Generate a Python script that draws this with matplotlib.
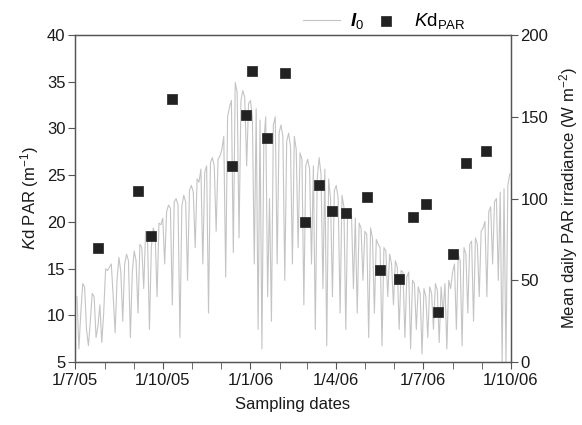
"""Kd PAR sampling points over daily mean PAR irradiance (I0), Jul 2005 - Oct 2006."""

import matplotlib
matplotlib.use("Agg")
import matplotlib.pyplot as plt
import matplotlib.dates as mdates
import pandas as pd

INK = "#1a1a1a"
LINE_GREY = "#c4c4c4"

# Kd PAR sampling dates and values (m^-1)
kd_dates = [
    "2005-07-25", "2005-09-05", "2005-09-19", "2005-10-11", "2005-12-13",
    "2005-12-27", "2006-01-03", "2006-01-18", "2006-02-06", "2006-02-27",
    "2006-03-14", "2006-03-28", "2006-04-11", "2006-05-03", "2006-05-17",
    "2006-06-06", "2006-06-21", "2006-07-04", "2006-07-17", "2006-08-01",
    "2006-08-15", "2006-09-05",
]
kd_values = [
    17.2, 23.3, 18.5, 33.2, 26.0,
    31.4, 36.2, 29.0, 35.9, 20.0,
    23.9, 21.2, 21.0, 22.7, 14.9,
    13.9, 20.5, 21.9, 10.4, 16.6,
    26.3, 27.6,
]

# mean daily PAR irradiance (W m^-2), read every second day from 3 Jul 2005
i0_start = "2005-07-03"
i0_values = [
    # Jul 05
    40, 8, 30, 48, 46, 20, 10, 25, 42, 40, 15, 22, 35, 12, 30,
    # Aug 05
    57, 56, 58, 60, 40, 18, 50, 64, 55, 25, 60, 66, 62, 15, 55,
    # Sep 05
    68, 62, 30, 72, 70, 45, 80, 76, 20, 70, 82, 78, 40, 85, 84,
    # Oct 05
    88, 60, 92, 96, 94, 35, 98, 100, 96, 15, 95, 102, 98, 50, 105, 108,
    # Nov 05
    104, 70, 112, 110, 118, 60, 116, 120, 30, 122, 125, 120, 80, 124, 126,
    # Dec 05
    130, 138, 52, 150, 156, 160, 67, 171, 165, 76, 160, 166, 162, 120, 158,
    # Jan 06
    160, 150, 60, 155, 20, 148, 8, 135, 150, 40, 100, 25, 145, 150, 60, 140,
    # Feb 06
    145, 138, 50, 135, 140, 132, 60, 138, 130, 70, 128, 124, 35, 120,
    # Mar 06
    124, 118, 60, 120, 20, 112, 125, 115, 45, 118, 10, 112, 100, 40, 105,
    # Apr 06
    108, 100, 30, 102, 95, 20, 94, 88, 90, 45, 88, 30, 85, 82, 50,
    # May 06
    80, 78, 15, 82, 76, 30, 75, 72, 70, 10, 70, 68, 40, 66, 60, 35,
    # Jun 06
    62, 58, 20, 56, 55, 15, 52, 55, 8, 50, 48, 20, 46, 42, 5,
    # Jul 06
    45, 40, 15, 46, 42, 20, 48, 44, 12, 46, 30, 48, 8, 50, 45,
    # Aug 06
    55, 60, 20, 66, 62, 10, 70, 66, 30, 72, 74, 25, 76, 72, 40, 80,
    # Sep 06
    82, 86, 40, 92, 95, 60, 98, 100, 50, 104, 0, 106, 0, 108, 115,
]

x_tick_dates = ["2005-07-01", "2005-10-01", "2006-01-01", "2006-04-01",
                "2006-07-01", "2006-10-01"]
x_tick_labels = ["1/7/05", "1/10/05", "1/1/06", "1/4/06", "1/7/06", "1/10/06"]
kd_ticks = [5, 10, 15, 20, 25, 30, 35, 40]
par_ticks = [0, 50, 100, 150, 200]


def setup_rc():
    plt.rcParams.update(
        {
            "font.family": "Liberation Sans",
            "font.size": 12,
            "mathtext.fontset": "custom",
            "mathtext.rm": "Liberation Sans",
            "mathtext.it": "Liberation Sans:italic",
            "mathtext.bf": "Liberation Sans:bold",
            "mathtext.bfit": "Liberation Sans:italic:bold",
            "axes.edgecolor": "#555555",
            "axes.linewidth": 0.9,
            "xtick.color": "#555555",
            "ytick.color": "#555555",
            "xtick.labelcolor": INK,
            "ytick.labelcolor": INK,
            "xtick.direction": "out",
            "ytick.direction": "out",
        }
    )


def main():
    setup_rc()
    fig = plt.figure(figsize=(5.82, 4.25), dpi=100)
    ax = fig.add_axes([0.129, 0.148, 0.7485, 0.7696])
    ax2 = ax.twinx()

    i0_dates = pd.date_range(i0_start, periods=len(i0_values), freq="2D")
    (ln,) = ax2.plot(i0_dates, i0_values, color=LINE_GREY, lw=0.8)
    sc = ax.scatter(pd.to_datetime(kd_dates), kd_values, marker="s", s=60,
                    color="#222222", edgecolors="#222222", linewidths=0.5)

    ax.set_zorder(ax2.get_zorder() + 1)
    ax.patch.set_visible(False)

    ax.set_xlim(pd.Timestamp("2005-07-01"), pd.Timestamp("2006-10-01"))
    ax.set_ylim(5, 40)
    ax.set_yticks(kd_ticks)
    ax2.set_ylim(0, 200)
    ax2.set_yticks(par_ticks)

    ax.set_xticks(pd.to_datetime(x_tick_dates))
    ax.set_xticklabels(x_tick_labels)
    ax.xaxis.set_minor_locator(mdates.MonthLocator())
    ax.tick_params(axis="x", which="major", length=5, pad=3)
    ax.tick_params(axis="x", which="minor", length=5)
    ax.tick_params(axis="y", length=5, pad=2)
    ax2.tick_params(axis="y", length=5, pad=2)

    ax.set_xlabel("Sampling dates", color=INK, labelpad=6)
    ax.set_ylabel(r"$\mathit{K}$d PAR (m$^{-1}$)", color=INK, labelpad=4)
    ax2.set_ylabel(r"Mean daily PAR irradiance (W m$^{-2}$)", color=INK,
                   labelpad=6)

    fig.legend([ln, sc], [r"$\mathbfit{I}_0$", r"$\mathit{K}$d$_{\mathrm{PAR}}$"],
               loc="center", bbox_to_anchor=(0.66, 0.95), ncol=2, frameon=False,
               handlelength=2.0, columnspacing=0.15, handletextpad=0.5,
               fontsize=13.5)

    fig.savefig("out.png", dpi=100)
    plt.close(fig)


if __name__ == "__main__":
    main()
